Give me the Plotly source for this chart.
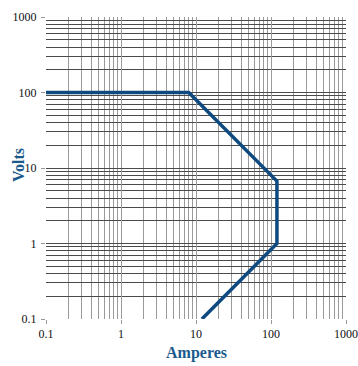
import plotly.graph_objects as go

# Safe operating area boundary (amperes vs volts)
amperes = [0.1, 8, 120, 120, 12]
volts = [100, 100, 6.7, 1, 0.1]

decades = [0.1, 1, 10, 100, 1000]
decade_labels = ["0.1", "1", "10", "100", "1000"]
minor_vals = [d * m for d in decades[:-1] for m in range(2, 10)]

fig = go.Figure()
fig.add_trace(go.Scatter(
    x=amperes, y=volts, mode="lines",
    line=dict(color="#0e4a80", width=3.5),
    showlegend=False, hoverinfo="skip",
))

tick_font = dict(family="Liberation Serif", size=12, color="#111111")
title_font = dict(family="Liberation Serif", size=16, color="#1c5a8c")

fig.update_xaxes(
    type="log", range=[-1, 3], automargin=False,
    tickmode="array", tickvals=decades, ticktext=decade_labels,
    ticks="outside", ticklen=4, tickcolor="#999999", tickwidth=1,
    tickfont=tick_font,
    showgrid=True, gridcolor="#9a9a9a", gridwidth=1,
    minor=dict(tickmode="array", tickvals=minor_vals, showgrid=True,
               gridcolor="#9a9a9a", gridwidth=1, ticks=""),
    showline=False, zeroline=False,
)
fig.update_yaxes(
    type="log", range=[-1, 3], automargin=False,
    tickmode="array", tickvals=decades, ticktext=decade_labels,
    ticks="outside", ticklen=4, tickcolor="#999999", tickwidth=1,
    tickfont=tick_font, ticklabelstandoff=2,
    showgrid=True, gridcolor="#4a4a4a", gridwidth=1,
    minor=dict(tickmode="array", tickvals=minor_vals, showgrid=True,
               gridcolor="#4a4a4a", gridwidth=1, ticks=""),
    showline=False, zeroline=False,
)

# Axis titles
fig.add_annotation(text="<b>Amperes</b>", xref="paper", yref="paper",
                   x=0.5, y=0, yshift=-34, showarrow=False,
                   xanchor="center", yanchor="middle", font=title_font)
fig.add_annotation(text="<b>Volts</b>", xref="paper", yref="paper",
                   x=0, y=0.5, xshift=-28, yshift=3, showarrow=False,
                   textangle=-90, xanchor="center", yanchor="middle",
                   font=title_font)

fig.update_layout(
    width=358, height=366,
    margin=dict(l=46, r=12, t=17, b=47),
    paper_bgcolor="white", plot_bgcolor="white",
)

fig.write_html("out.html")
